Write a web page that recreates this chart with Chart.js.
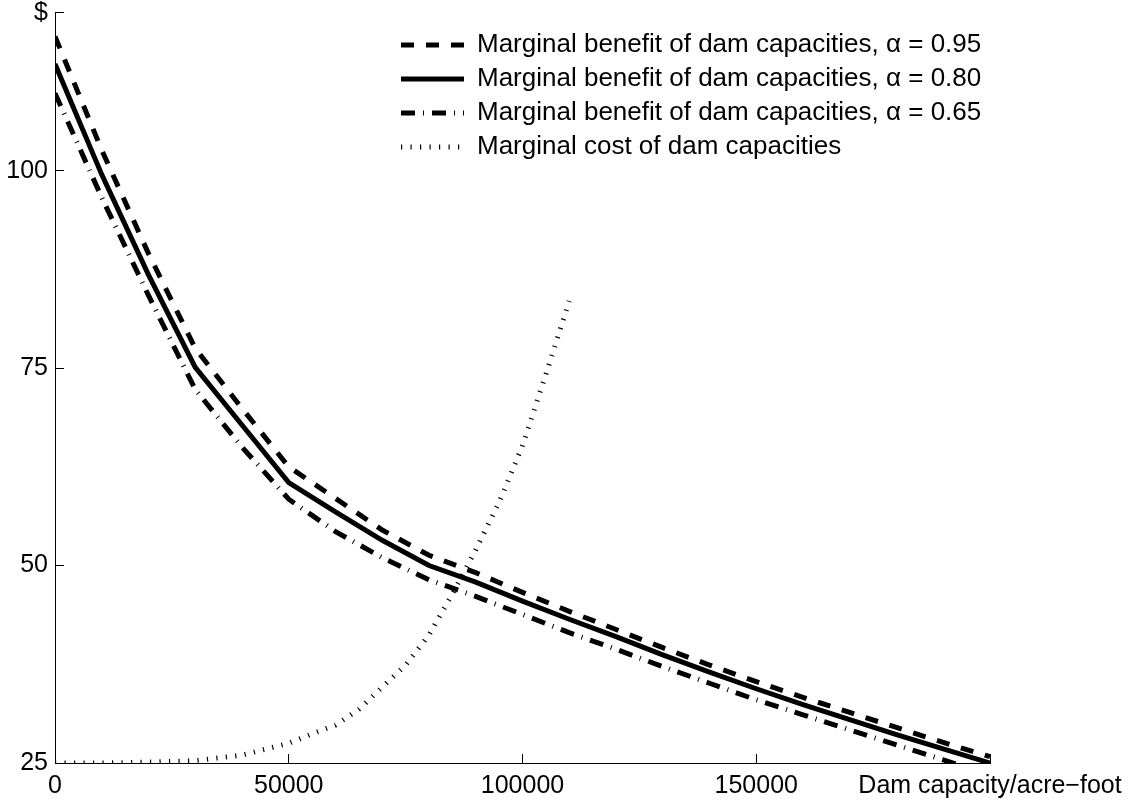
<!DOCTYPE html>
<html>
<head>
<meta charset="utf-8">
<title>Marginal benefit and cost of dam capacities</title>
<script src="https://cdn.jsdelivr.net/npm/chart.js@4.4.1/dist/chart.umd.min.js"></script>
<style>
  html, body { margin: 0; padding: 0; background: #fff; }
  #wrap { width: 1134px; height: 801px; }
</style>
</head>
<body>
<div id="wrap"><canvas id="damChart" width="1134" height="801"></canvas></div>
<script>
// dam capacity (acre-foot) for the benefit curves
const capacity = [0, 10000, 20000, 30000, 40000, 50000, 60000, 70000, 80000, 90000, 100000,
    110000, 120000, 130000, 140000, 150000, 160000, 170000, 180000, 190000, 200000];
const benefit95 = [117.0, 102.6, 89.5, 77.5, 69.9, 62.5, 58.5, 54.5, 51.3, 49.1, 46.6,
    44.2, 41.9, 39.6, 37.4, 35.3, 33.3, 31.4, 29.5, 27.6, 25.8];
const benefit80 = [113.5, 99.5, 86.8, 75.1, 67.8, 60.5, 56.8, 53.2, 50.0, 47.9, 45.5,
    43.2, 41.0, 38.7, 36.5, 34.4, 32.4, 30.5, 28.6, 26.8, 25.0];
const benefit65 = [109.8, 96.6, 84.2, 72.3, 65.0, 58.4, 54.3, 51.0, 48.2, 46.1, 43.8,
    41.5, 39.4, 37.2, 35.1, 33.0, 31.1, 29.2, 27.3, 25.4, 23.5];

// marginal cost curve
const costCapacity = [0, 10000, 20000, 30000, 40000, 50000, 55000, 60000, 65000, 70000, 75000,
    80000, 85000, 90000, 95000, 100000, 105000, 110000];
const cost = [25.0, 25.0, 25.1, 25.3, 26.0, 27.5, 28.7, 29.8, 31.8, 34.6, 37.4,
    41.2, 46.4, 52.0, 58.0, 65.2, 74.2, 83.5];

const xTicks = [0, 50000, 100000, 150000, 200000];
const xTickLabels = ['0', '50000', '100000', '150000', 'Dam capacity/acre\u2212foot'];
const yTicks = [25, 50, 75, 100, 120];
const yTickLabels = ['25', '50', '75', '100', '$'];

const seriesLabels = [
    'Marginal benefit of dam capacities, \u03b1 = 0.95',
    'Marginal benefit of dam capacities, \u03b1 = 0.80',
    'Marginal benefit of dam capacities, \u03b1 = 0.65',
    'Marginal cost of dam capacities'
];

const pts = (xs, ys) => xs.map((x, i) => ({ x: x, y: ys[i] }));
const family = '"Liberation Sans", Arial, Helvetica, sans-serif';
const tickFont = { family: family, size: 25 };
const legendFont = { family: family, size: 26 };

function lineSet(label, data, dash) {
    return {
        label: label,
        data: data,
        borderColor: '#000',
        backgroundColor: '#000',
        borderWidth: 5,
        borderDash: dash,
        borderCapStyle: 'butt',
        pointRadius: 0,
        tension: 0,
        fill: false,
        clip: 0
    };
}

// put the legend where the original has it, inside the axes
const legendPlacer = {
    id: 'legendPlacer',
    afterLayout(chart) {
        const lg = chart.legend;
        if (!lg) return;
        lg.left = 393;
        lg.top = 24;
        lg.right = 1134;
        lg.bottom = 801;
    }
};

const ctx = document.getElementById('damChart').getContext('2d');
const chart = new Chart(ctx, {
    type: 'line',
    data: {
        datasets: [
            lineSet(seriesLabels[0], pts(capacity, benefit95), [13, 12]),
            lineSet(seriesLabels[1], pts(capacity, benefit80), []),
            lineSet(seriesLabels[2], pts(capacity, benefit65), [14, 8, 1, 8]),
            lineSet(seriesLabels[3], pts(costCapacity, cost), [1.2, 8.3])
        ]
    },
    options: {
        responsive: false,
        animation: false,
        events: [],
        layout: { padding: { top: 12.7, right: 144, left: 0, bottom: 0 } },
        scales: {
            x: {
                type: 'linear',
                min: 0,
                max: 200000,
                afterBuildTicks: s => { s.ticks = xTicks.map(v => ({ value: v })); },
                afterFit: s => {
                    s.height = 38;
                    s.paddingLeft = 0; s.paddingRight = 0; s.paddingTop = 0; s.paddingBottom = 0;
                },
                ticks: {
                    autoSkip: false,
                    maxRotation: 0,
                    minRotation: 0,
                    padding: 17,
                    color: '#000',
                    font: tickFont,
                    callback: v => xTickLabels[xTicks.indexOf(v)]
                },
                grid: { drawOnChartArea: false, drawTicks: true, tickLength: -9, color: '#000', lineWidth: 1 },
                border: { display: true, color: '#000', width: 1 }
            },
            y: {
                type: 'linear',
                min: 25,
                max: 120,
                afterBuildTicks: s => { s.ticks = yTicks.map(v => ({ value: v })); },
                afterFit: s => {
                    s.width = 55;
                    s.paddingLeft = 0; s.paddingRight = 0; s.paddingTop = 0; s.paddingBottom = 0;
                },
                ticks: {
                    autoSkip: false,
                    padding: 16,
                    color: '#000',
                    font: tickFont,
                    callback: v => yTickLabels[yTicks.indexOf(v)]
                },
                grid: { drawOnChartArea: false, drawTicks: true, tickLength: -9, color: '#000', lineWidth: 1 },
                border: { display: true, color: '#000', width: 1 }
            }
        },
        plugins: {
            tooltip: { enabled: false },
            legend: {
                position: 'chartArea',
                align: 'start',
                labels: {
                    usePointStyle: true,
                    pointStyle: 'line',
                    pointStyleWidth: 63,
                    padding: 8,
                    color: '#000',
                    font: legendFont,
                    generateLabels: c => {
                        const items = Chart.defaults.plugins.legend.labels.generateLabels(c);
                        return items.map(it => {
                            const ds = c.data.datasets[it.datasetIndex];
                            it.lineDash = ds.borderDash;
                            it.lineWidth = ds.borderWidth;
                            it.strokeStyle = ds.borderColor;
                            it.pointStyle = 'line';
                            return it;
                        });
                    }
                }
            }
        }
    },
    plugins: [legendPlacer]
});
</script>
</body>
</html>
